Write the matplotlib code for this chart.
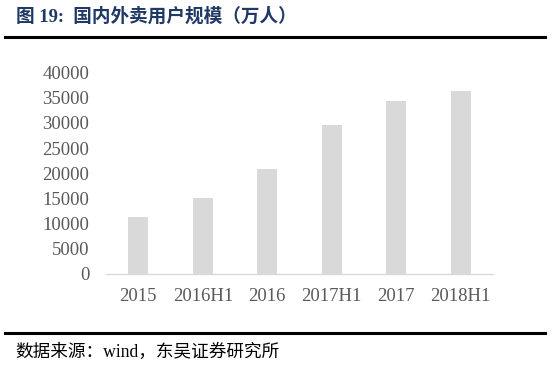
import numpy as np
import matplotlib
matplotlib.use("Agg")
from matplotlib import pyplot as plt
from matplotlib.lines import Line2D

## data (unit: 10k users)
categories = ['2015', '2016H1', '2016', '2017H1', '2017', '2018H1']
users = [11400, 15000, 20900, 29600, 34400, 36400]
yticks = [0, 5000, 10000, 15000, 20000, 25000, 30000, 35000, 40000]

title = '图 19:  国内外卖用户规模（万人）'
source = '数据来源：wind，东吴证券研究所'

W, H = 554, 368
fig = plt.figure(figsize=(W/100, H/100), dpi=100)
fonts = ['Liberation Serif', 'Noto Sans CJK SC']

## axes box placed in pixel units of the reference
ax = fig.add_axes([106/W, (H-274)/H, (493-106)/W, (274-72.5)/H])
x = np.arange(len(categories))
ax.bar(x, users, width=0.31, color='#D9D9D9', zorder=2)
ax.set_xlim(-0.5, len(categories)-0.5)
ax.set_ylim(0, 40000)
ax.set_yticks(yticks)
ax.set_xticks(x)
ax.set_xticklabels(categories)
for s in ['top', 'right', 'left']:
    ax.spines[s].set_visible(False)
ax.spines['bottom'].set_color('#D9D9D9')
ax.spines['bottom'].set_linewidth(1.0)
ax.tick_params(axis='both', length=0, labelsize=13.5, labelcolor='#595959')
ax.tick_params(axis='y', pad=12)
ax.tick_params(axis='x', pad=10)
for lab in ax.get_xticklabels() + ax.get_yticklabels():
    lab.set_family('Liberation Serif')

## title, rules and source line
fig.text(16/W, (H-16)/H, title, fontsize=13.4, fontweight='bold', color='#1F3864',
         va='center', ha='left', family=fonts)
fig.add_artist(Line2D([5/W, 545/W], [(H-36.5)/H]*2, color='black', lw=2.2))
fig.add_artist(Line2D([5/W, 545/W], [(H-333)/H]*2, color='black', lw=2.2))
fig.text(15/W, (H-352)/H, source, fontsize=12.7, color='black',
         va='center', ha='left', family=fonts)

fig.savefig('out.png', dpi=100)
